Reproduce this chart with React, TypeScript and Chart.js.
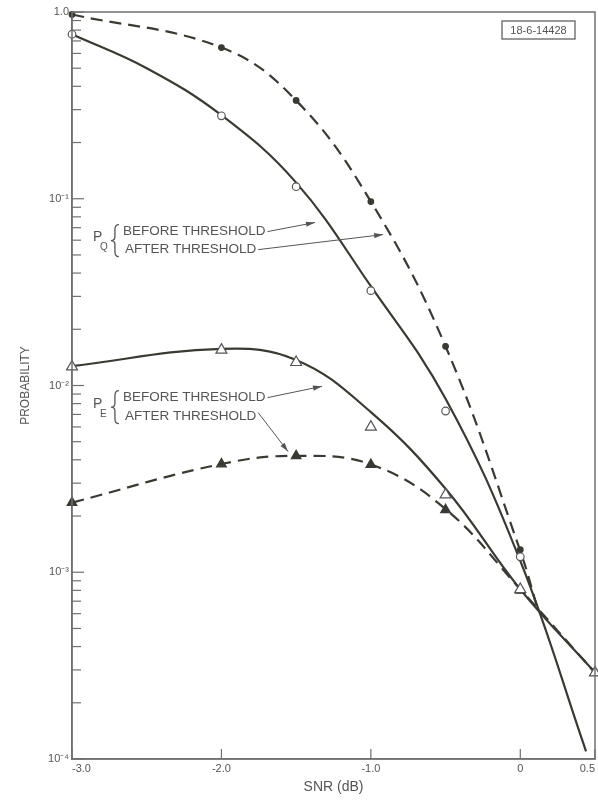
import React, { useEffect, useRef } from 'react';
import { Chart, registerables } from 'chart.js';

Chart.register(...registerables);

// ---- axis ticks ----
const xTickValues = [-3, -2, -1, 0, 0.5];
const xTickLabels = ['-3.0', '-2.0', '-1.0', '0', '0.5'];
const yTickValues = [1e-4, 1e-3, 1e-2, 1e-1, 1];
const yTickLabels = ['10⁻⁴', '10⁻³', '10⁻²', '10⁻¹', '1.0'];
const yMinorMultipliers = [2, 3, 4, 5, 6, 7, 8, 9];

// ---- measured points (markers) ----
const snrQ = [-3.0, -2.0, -1.5, -1.0, -0.5, 0];
const pqBeforePoints = [0.76, 0.278, 0.116, 0.0322, 0.0073, 0.00121];
const pqAfterPoints = [0.97, 0.645, 0.336, 0.0966, 0.0162, 0.00132];
const snrE = [-3.0, -2.0, -1.5, -1.0, -0.5, 0, 0.5];
const peBeforePoints = [0.0126, 0.0155, 0.0133, 0.006, 0.0026, 0.00081, 0.00029];
const peAfterPoints = [0.00236, 0.0038, 0.0042, 0.00377, 0.00216, 0.0008, 0.00029];

// ---- fitted curves ----
const pqBeforeCurveX = [-3.0, -2.5, -2.0, -1.5, -1.0, -0.5, 0, 0.44];
const pqBeforeCurveY = [0.76, 0.5, 0.28, 0.122, 0.034, 0.0085, 0.00115, 0.00011];
const pqAfterCurveX = [-3.0, -2.0, -1.5, -1.0, -0.5, 0, 0.12];
const pqAfterCurveY = [0.97, 0.645, 0.336, 0.0966, 0.0162, 0.0013, 0.00062];
const peBeforeCurveX = [-3.0, -2.0, -1.5, -1.0, -0.5, 0, 0.5];
const peBeforeCurveY = [0.0127, 0.0157, 0.0137, 0.0072, 0.0028, 0.00081, 0.00029];
const peAfterCurveX = [-3.0, -2.0, -1.5, -1.0, -0.5, 0, 0.5];
const peAfterCurveY = [0.00236, 0.0038, 0.0042, 0.00378, 0.00218, 0.00081, 0.00029];

// ---- annotation anchors (data coordinates) ----
const noteGroups = [
  { symbol: 'P', sub: 'Q', x: -2.86, yBefore: 0.0667, yAfter: 0.0534,
    beforeTip: { x: -1.374, y: 0.0746 }, afterTip: { x: -0.918, y: 0.0643 }, afterDy: 0 },
  { symbol: 'P', sub: 'E', x: -2.86, yBefore: 0.00861, yAfter: 0.00681,
    beforeTip: { x: -1.327, y: 0.0099 }, afterTip: { x: -1.554, y: 0.00443 }, afterDy: -4 },
];
const stampText = '18-6-14428';

const FONT = '"Liberation Sans", Arial, sans-serif';
const LINE = '#3a3a34';
const AXIS = '#707070';
const TEXT = '#555555';

const pts = (xs: number[], ys: number[]) => xs.map((x, i) => ({ x, y: ys[i] }));

function arrow(ctx: CanvasRenderingContext2D, x1: number, y1: number, x2: number, y2: number) {
  ctx.beginPath();
  ctx.moveTo(x1, y1);
  ctx.lineTo(x2, y2);
  ctx.stroke();
  const ang = Math.atan2(y2 - y1, x2 - x1);
  const L = 9, W = 2.6;
  ctx.beginPath();
  ctx.moveTo(x2, y2);
  ctx.lineTo(x2 - L * Math.cos(ang) + W * Math.sin(ang), y2 - L * Math.sin(ang) - W * Math.cos(ang));
  ctx.lineTo(x2 - L * Math.cos(ang) - W * Math.sin(ang), y2 - L * Math.sin(ang) + W * Math.cos(ang));
  ctx.closePath();
  ctx.fill();
}

const decorPlugin = {
  id: 'decor',
  afterDraw(chart: any) {
    const { ctx, chartArea: a, scales } = chart;
    const xs = scales.x, ys = scales.y;
    ctx.save();
    // frame
    ctx.strokeStyle = AXIS;
    ctx.lineWidth = 1.5;
    ctx.strokeRect(a.left, a.top, a.right - a.left, a.bottom - a.top);
    // y ticks inside
    ctx.lineWidth = 1.2;
    yTickValues.forEach((d, i) => {
      const p = ys.getPixelForValue(d);
      ctx.beginPath(); ctx.moveTo(a.left, p); ctx.lineTo(a.left + 12, p); ctx.stroke();
      if (i < yTickValues.length - 1) {
        yMinorMultipliers.forEach((m) => {
          const q = ys.getPixelForValue(d * m);
          ctx.beginPath(); ctx.moveTo(a.left, q); ctx.lineTo(a.left + 9, q); ctx.stroke();
        });
      }
    });
    // x ticks inside
    xTickValues.forEach((v) => {
      const p = xs.getPixelForValue(v);
      ctx.beginPath(); ctx.moveTo(p, a.bottom); ctx.lineTo(p, a.bottom - 10); ctx.stroke();
    });

    // annotations
    ctx.fillStyle = TEXT;
    ctx.strokeStyle = TEXT;
    ctx.textBaseline = 'middle';
    ctx.textAlign = 'left';
    noteGroups.forEach((g) => {
      const x0 = xs.getPixelForValue(g.x);
      const y1 = ys.getPixelForValue(g.yBefore);
      const y2 = ys.getPixelForValue(g.yAfter);
      const ym = (y1 + y2) / 2;
      ctx.font = `14px ${FONT}`;
      ctx.fillText(g.symbol, x0, ym - 3);
      ctx.font = `10px ${FONT}`;
      ctx.fillText(g.sub, x0 + 7, ym + 7);
      // brace
      const bx = x0 + 22;
      const top = y1 - 7, bot = y2 + 7;
      ctx.lineWidth = 1.3;
      ctx.beginPath();
      ctx.moveTo(bx + 4, top);
      ctx.quadraticCurveTo(bx, top, bx, top + 5);
      ctx.lineTo(bx, ym - 4);
      ctx.quadraticCurveTo(bx, ym, bx - 4, ym);
      ctx.quadraticCurveTo(bx, ym, bx, ym + 4);
      ctx.lineTo(bx, bot - 5);
      ctx.quadraticCurveTo(bx, bot, bx + 4, bot);
      ctx.stroke();
      // texts
      ctx.font = `13.5px ${FONT}`;
      const tx = bx + 8;
      const t1 = 'BEFORE THRESHOLD', t2 = 'AFTER THRESHOLD';
      ctx.fillText(t1, tx, y1);
      ctx.fillText(t2, tx + 2, y2);
      const w1 = ctx.measureText(t1).width;
      const w2 = ctx.measureText(t2).width;
      ctx.lineWidth = 1;
      arrow(ctx, tx + w1 + 2, y1, xs.getPixelForValue(g.beforeTip.x), ys.getPixelForValue(g.beforeTip.y));
      arrow(ctx, tx + 2 + w2 + 2, y2 + g.afterDy, xs.getPixelForValue(g.afterTip.x), ys.getPixelForValue(g.afterTip.y));
    });

    // stamp box
    const bw = 73, bh = 18;
    const bxr = a.right - 20, byt = a.top + 9;
    ctx.lineWidth = 1.2;
    ctx.strokeStyle = TEXT;
    ctx.strokeRect(bxr - bw, byt, bw, bh);
    ctx.font = `11px ${FONT}`;
    ctx.textAlign = 'center';
    ctx.fillText(stampText, bxr - bw / 2, byt + bh / 2 + 1);
    ctx.restore();
  },
};

export default function App() {
  const ref = useRef<HTMLCanvasElement>(null);
  useEffect(() => {
    if (!ref.current) return;
    const lineDs = (label: string, xs: number[], ys: number[], dashed: boolean) => ({
      label,
      data: pts(xs, ys),
      showLine: true,
      borderColor: LINE,
      borderWidth: 2.2,
      borderDash: dashed ? [12, 7] : [],
      pointRadius: 0,
      tension: 0.4,
      fill: false,
      order: 2,
    });
    const markerDs = (label: string, xs: number[], ys: number[], style: string, r: number, filled: boolean) => ({
      label,
      data: pts(xs, ys),
      showLine: false,
      pointStyle: style,
      pointRadius: r,
      pointBackgroundColor: filled ? LINE : '#ffffff',
      pointBorderColor: filled ? LINE : '#555555',
      pointBorderWidth: 1.2,
      clip: false,
      order: 1,
    });
    const chart = new Chart(ref.current, {
      type: 'scatter',
      data: {
        datasets: [
          lineDs('PQ before threshold', pqBeforeCurveX, pqBeforeCurveY, false),
          lineDs('PQ after threshold', pqAfterCurveX, pqAfterCurveY, true),
          lineDs('PE before threshold', peBeforeCurveX, peBeforeCurveY, false),
          lineDs('PE after threshold', peAfterCurveX, peAfterCurveY, true),
          markerDs('PQ before (pts)', snrQ, pqBeforePoints, 'circle', 3.8, false),
          markerDs('PQ after (pts)', snrQ, pqAfterPoints, 'circle', 2.8, true),
          markerDs('PE before (pts)', snrE, peBeforePoints, 'triangle', 6.3, false),
          markerDs('PE after (pts)', snrE, peAfterPoints, 'triangle', 5.6, true),
        ] as any,
      },
      options: {
        animation: false,
        responsive: false,
        devicePixelRatio: 1,
        layout: { autoPadding: false, padding: { top: 12, right: 3, left: 0, bottom: 0 } },
        plugins: { legend: { display: false }, tooltip: { enabled: false } },
        scales: {
          x: {
            type: 'linear',
            min: -3,
            max: 0.5,
            afterBuildTicks: (s: any) => { s.ticks = xTickValues.map((v) => ({ value: v })); },
            afterFit: (s: any) => { s.height = 43; s.paddingLeft = 0; s.paddingRight = 0; },
            grid: { display: false, drawTicks: false },
            border: { display: true, color: AXIS, width: 1.5 },
            ticks: {
              autoSkip: false,
              maxRotation: 0,
              align: 'inner',
              padding: 3,
              color: TEXT,
              font: { family: FONT, size: 11 },
              callback: (_v: any, i: number) => xTickLabels[i],
            },
            title: {
              display: true,
              text: 'SNR (dB)',
              color: TEXT,
              font: { family: FONT, size: 14 },
              padding: { top: 0, bottom: 6 },
            },
          },
          y: {
            type: 'logarithmic',
            min: 1e-4,
            max: 1,
            afterBuildTicks: (s: any) => { s.ticks = yTickValues.map((v) => ({ value: v })); },
            afterFit: (s: any) => { s.width = 72; s.paddingTop = 0; s.paddingBottom = 0; },
            grid: { display: false, drawTicks: false },
            border: { display: true, color: AXIS, width: 1.5 },
            ticks: {
              autoSkip: false,
              padding: 3,
              color: TEXT,
              font: { family: FONT, size: 11 },
              callback: (_v: any, i: number) => yTickLabels[i],
            },
            title: {
              display: true,
              text: 'PROBABILITY',
              color: TEXT,
              font: { family: FONT, size: 12 },
              padding: { top: 18, bottom: 0 },
            },
          },
        },
      } as any,
      plugins: [decorPlugin],
    });
    return () => chart.destroy();
  }, []);
  return (
    <div style={{ position: 'absolute', left: 0, top: 0, width: 598, height: 802, background: '#ffffff' }}>
      <canvas ref={ref} width={598} height={802} style={{ display: 'block', width: '598px', height: '802px' }} />
    </div>
  );
}
